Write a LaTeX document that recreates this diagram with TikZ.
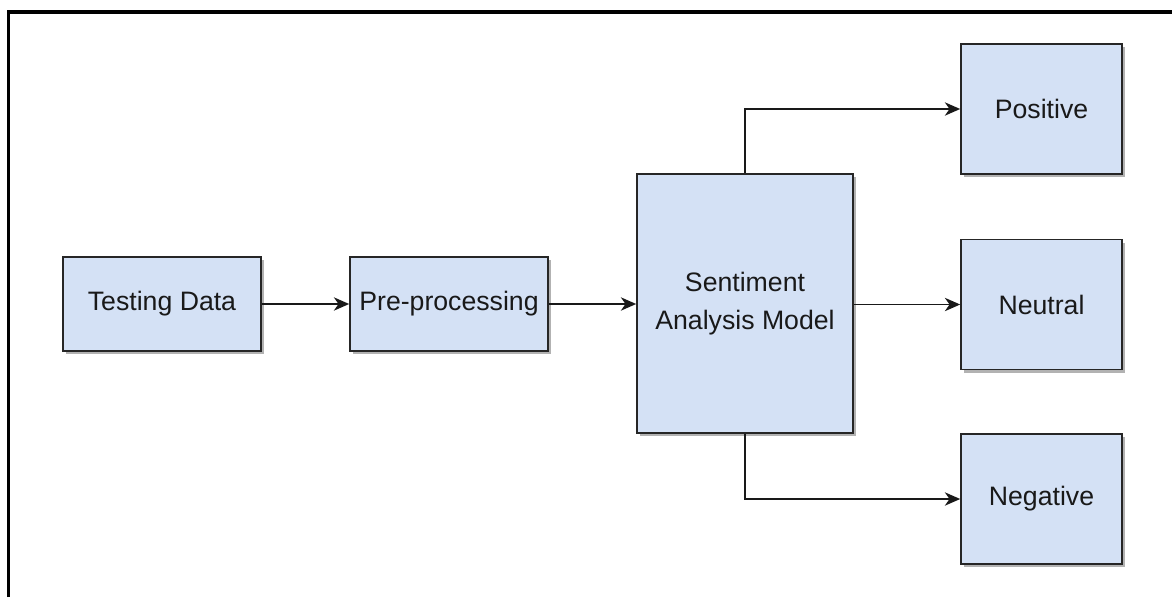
\documentclass[tikz,border=0pt]{standalone}
\usepackage{fontspec}
\setmainfont{Liberation Sans}
\usetikzlibrary{arrows.meta,shadows}
\definecolor{boxfill}{RGB}{212,225,245}
\definecolor{textcol}{RGB}{25,25,25}
\begin{document}
\begin{tikzpicture}[x=0.75pt,y=-0.75pt,
  box/.style={draw=black!85, line width=1.2pt, fill=boxfill, align=center, inner sep=0pt,
    text=textcol, font=\fontsize{20}{28}\selectfont,
    drop shadow={shadow xshift=2.4pt, shadow yshift=-2.4pt, fill=black, opacity=0.3}},
  smallbox/.style={box, minimum width=148.5pt, minimum height=70.5pt},
  outbox/.style={box, minimum width=120.75pt, minimum height=97.5pt},
  conn/.style={draw=black!90, line width=1.2pt, -{Stealth[length=11.5pt, width=10pt, inset=3.5pt]}},
  frame/.style={draw=black, line width=2.4pt}]
\useasboundingbox (0,0) rectangle (1172,597);
\draw[frame] (8.5,597) -- (8.5,12) -- (1172,12);
\node[smallbox] (test) at (162,304) {Testing Data};
\node[smallbox] (pre) at (449,304) {Pre-processing};
\node[box, minimum width=162pt, minimum height=194.25pt] (sent) at (745,303.5) {Sentiment\\Analysis Model};
\node[outbox] (pos) at (1041.5,109) {Positive};
\node[outbox] (neu) at (1041.5,304.5) {Neutral};
\node[outbox] (neg) at (1041.5,499) {Negative};
\draw[conn] (test) -- (pre);
\draw[conn] (pre.east) -- (pre.east -| sent.west);
\draw[conn] (sent.north) |- (pos.west);
\draw[conn] (sent.east |- neu.west) -- (neu.west);
\draw[conn] (sent.south) |- (neg.west);
\end{tikzpicture}
\end{document}
